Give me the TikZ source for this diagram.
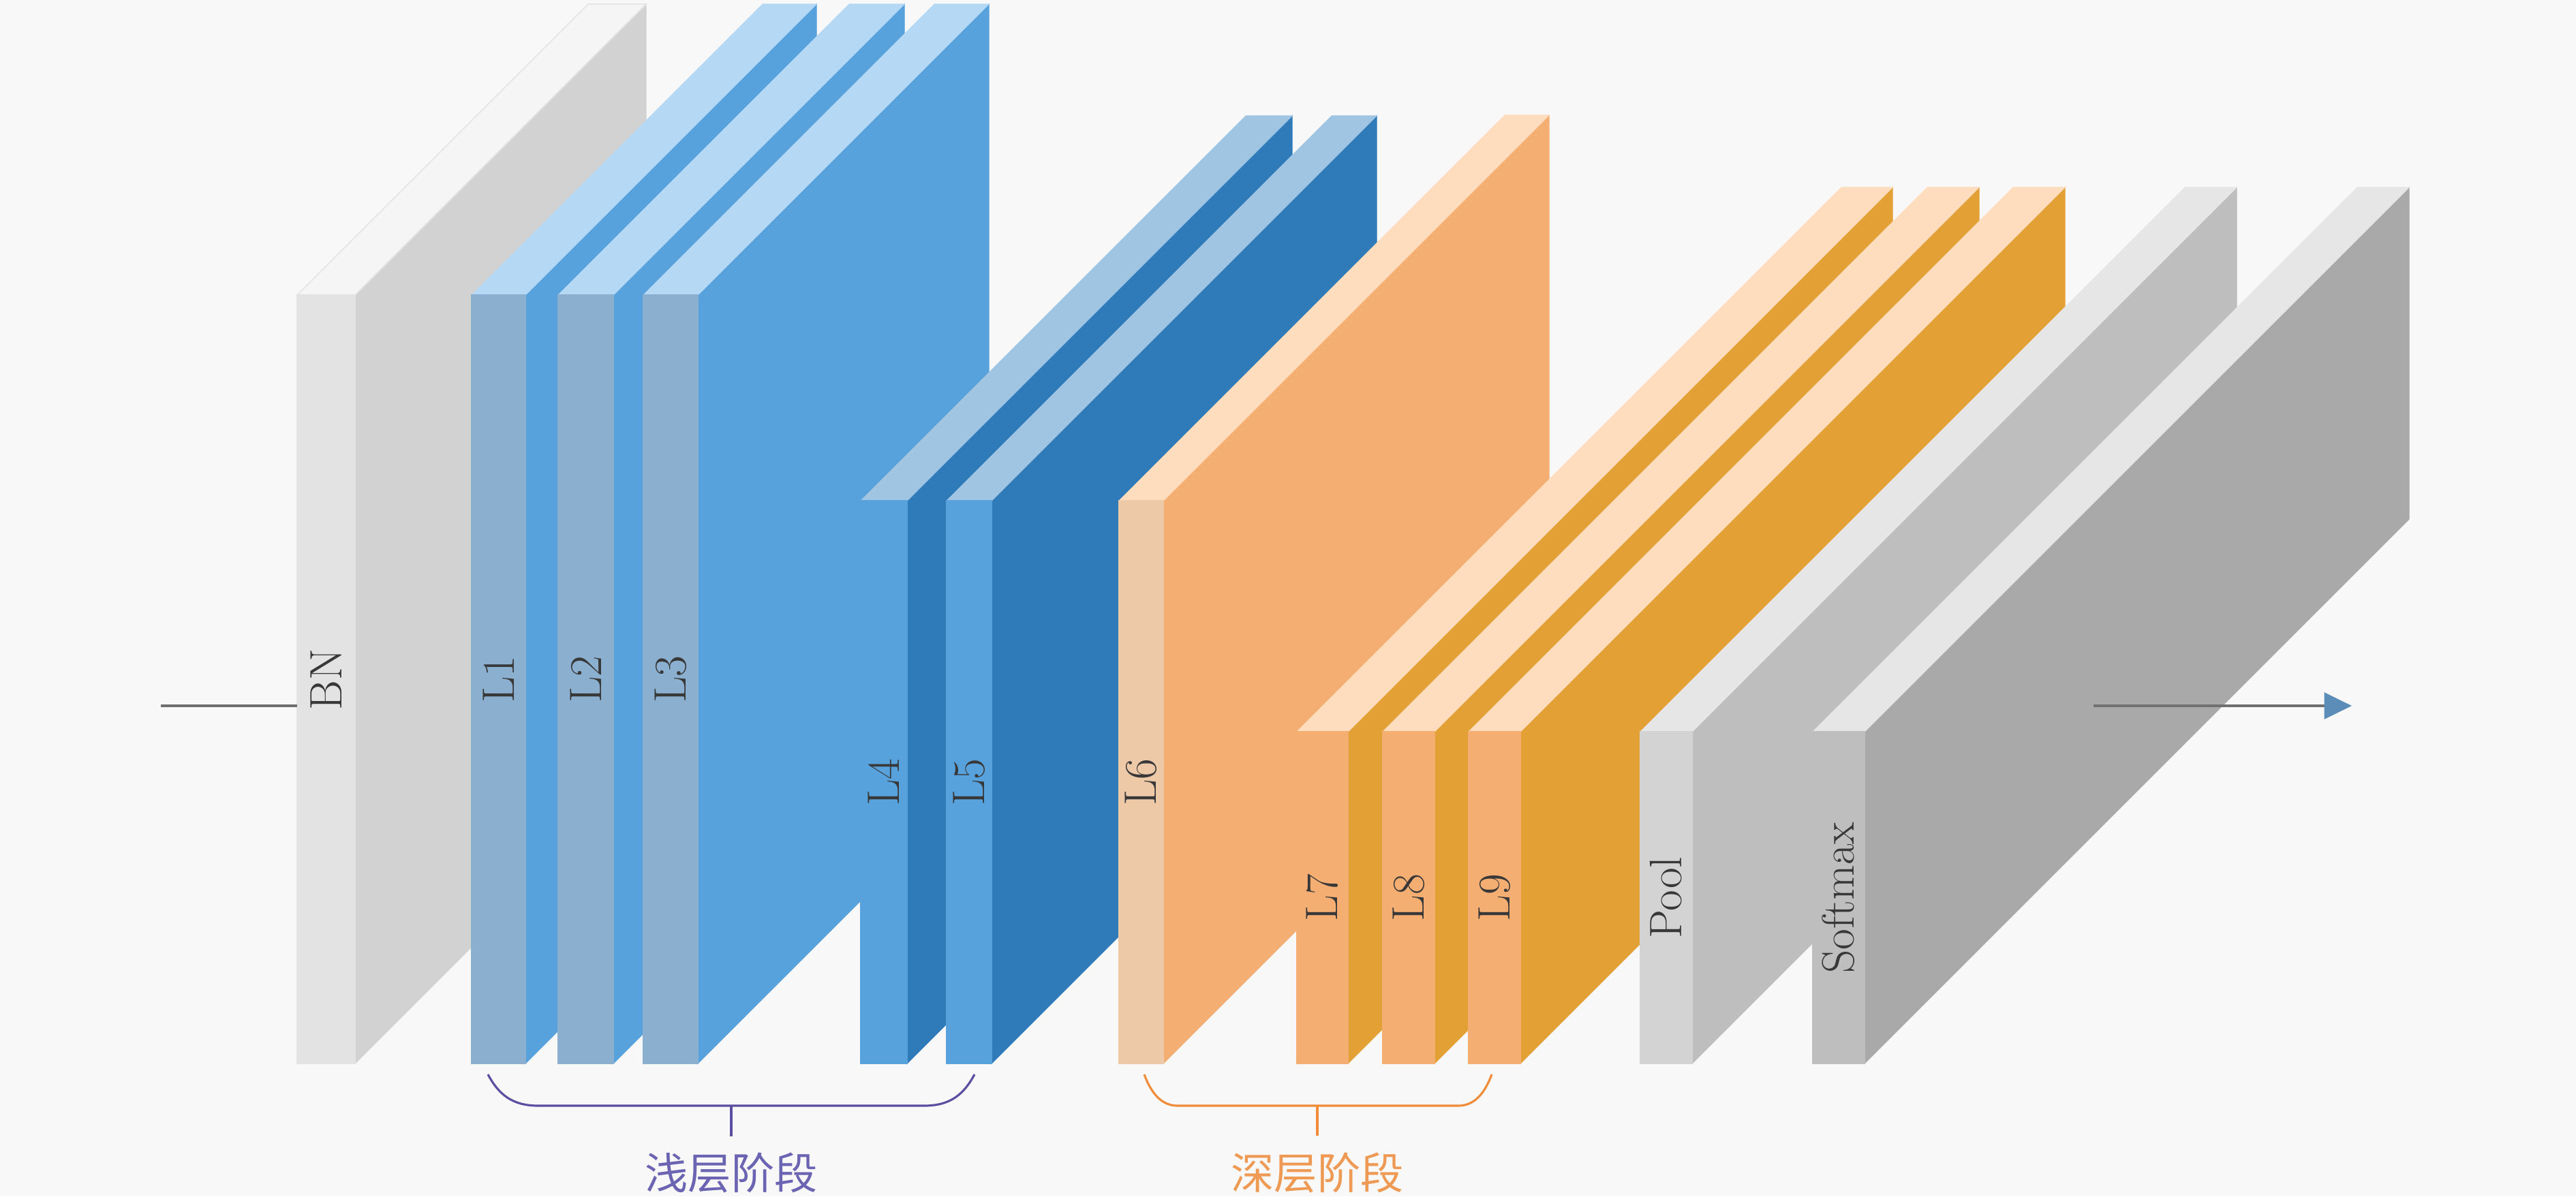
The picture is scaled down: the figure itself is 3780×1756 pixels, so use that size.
\documentclass[tikz,border=0pt]{standalone}
\usepackage{fontspec}
\newfontfamily\cjk{Noto Sans CJK SC}
\usetikzlibrary{arrows.meta}
\definecolor{bgc}{HTML}{F8F8F8}
% grey
\definecolor{bnF}{HTML}{E3E3E3}\definecolor{bnS}{HTML}{D2D2D2}\definecolor{bnT}{HTML}{F5F5F5}
% light blue group
\definecolor{lbF}{HTML}{8BAFCF}\definecolor{lbS}{HTML}{57A2DD}\definecolor{lbT}{HTML}{B5D8F4}
% dark blue group
\definecolor{dbF}{HTML}{57A2DD}\definecolor{dbS}{HTML}{2F7AB8}\definecolor{dbT}{HTML}{A0C5E3}
% L6
\definecolor{sxF}{HTML}{EDC9A8}\definecolor{sxS}{HTML}{F5AE72}\definecolor{orT}{HTML}{FEDDBF}
% L7-L9
\definecolor{orF}{HTML}{F5AE72}\definecolor{orS}{HTML}{E3A035}
% pool / softmax
\definecolor{plF}{HTML}{D3D3D3}\definecolor{plS}{HTML}{BEBEBE}\definecolor{gyT}{HTML}{E6E6E6}
\definecolor{smF}{HTML}{BEBEBE}\definecolor{smS}{HTML}{A9A9A9}
\definecolor{lineg}{HTML}{707070}
\definecolor{arrowb}{HTML}{5B8DB8}
\definecolor{braceA}{HTML}{5B4FA2}\definecolor{textA}{HTML}{6A64B2}
\definecolor{braceB}{HTML}{F08C3A}\definecolor{textB}{HTML}{EE9A55}

% #1 name, #2 x left, #3 x right, #4 top y, #5 depth, #6 front, #7 side, #8 top, #9 label
\newcommand\nnlayer[9]{%
  \filldraw[#7, line width=0.3pt] (#3,1561) -- (#3,#4) -- ++(#5,-#5) -- ++(0,{1561-#4}) -- cycle;
  \filldraw[#8, line width=0.3pt] (#2,#4) -- (#3,#4) -- ++(#5,-#5) -- ++({#2-#3},0) -- cycle;
  \filldraw[#6, line width=0.3pt] (#2,#4) rectangle (#3,1561);
  \node[lbl] (#1) at ({(#2+#3)/2},{(#4+1561)/2}) {#9};
}

\begin{document}
\begin{tikzpicture}[x=0.01cm,y=-0.01cm,
  lbl/.style={rotate=90, text=black!78, font=\fontsize{19}{23}\selectfont, inner sep=0pt},
  conn/.style={draw=lineg, line width=1.1pt},
  bracestyle/.style={line width=0.9pt},
  cjklbl/.style={font=\cjk\fontsize{18}{22}\selectfont, inner sep=0pt, anchor=base}]
\fill[bgc] (0,0) rectangle (3780,1756);
\useasboundingbox (0,0) rectangle (3780,1756);

% layers
\filldraw[bnS, line width=0.3pt] (521,1561) -- (521,433) -- ++(427,-427) -- ++(0,1128) -- cycle;
\filldraw[fill=bnT, draw=black!10, line width=0.5pt] (436,433) -- (521,433) -- ++(427,-427) -- ++(-85,0) -- cycle;
\filldraw[bnF, line width=0.3pt] (436,433) rectangle (521,1561);
\node[lbl] (bn) at (478.5,997) {BN};

\nnlayer{l1}{692}{771}{433}{427}{lbF}{lbS}{lbT}{L1}
\nnlayer{l2}{819}{900}{433}{427}{lbF}{lbS}{lbT}{L2}
\nnlayer{l3}{944}{1024}{433}{427}{lbF}{lbS}{lbT}{L3}
\nnlayer{l4}{1263}{1331}{735}{565}{dbF}{dbS}{dbT}{L4}
\nnlayer{l5}{1389}{1455}{735}{565}{dbF}{dbS}{dbT}{L5}
\nnlayer{l6}{1642}{1707}{735}{566}{sxF}{sxS}{orT}{L6}
\nnlayer{l7}{1903}{1978}{1074}{799}{orF}{orS}{orT}{L7}
\nnlayer{l8}{2029}{2105}{1074}{799}{orF}{orS}{orT}{L8}
\nnlayer{l9}{2155}{2231}{1074}{799}{orF}{orS}{orT}{L9}
\nnlayer{pool}{2407}{2483}{1074}{799}{plF}{plS}{gyT}{Pool}
\nnlayer{softmax}{2660}{2736}{1074}{799}{smF}{smS}{gyT}{Softmax}

% connectors
\coordinate (inS) at (236,1036);
\coordinate (bnW) at (436,1036);
\coordinate (outS) at (3072,1036);
\coordinate (outE) at (3451,1036);
\draw[conn] (inS) -- (bnW);
\draw[conn, -{Triangle[length=11.5pt,width=11pt,color=arrowb]}] (outS) -- (outE);

% braces
\draw[braceA, bracestyle] (716,1577) .. controls (732,1607) and (752,1623) .. (790,1623)
  -- (1356,1623) .. controls (1394,1623) and (1414,1607) .. (1430,1577);
\node[cjklbl, text=textA] (shallow) at (1073,1745) {浅层阶段};
\draw[braceA, bracestyle] (1073,1623) -- (1073,1668);

\draw[braceB, bracestyle] (1679,1577) .. controls (1689,1604) and (1704,1623) .. (1728,1623)
  -- (2140,1623) .. controls (2164,1623) and (2179,1604) .. (2189,1577);
\node[cjklbl, text=textB] (deep) at (1933,1745) {深层阶段};
\draw[braceB, bracestyle] (1933,1623) -- (1933,1667);
\end{tikzpicture}
\end{document}
